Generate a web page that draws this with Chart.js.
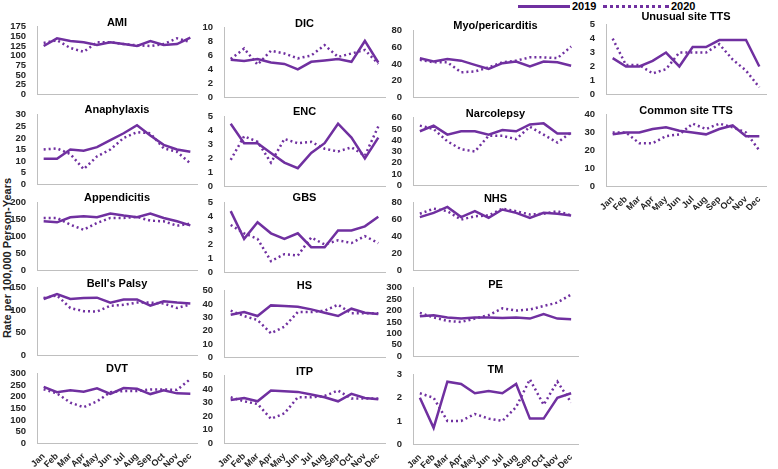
<!DOCTYPE html>
<html>
<head>
<meta charset="utf-8">
<script src="https://cdn.jsdelivr.net/npm/chart.js@4.4.1/dist/chart.umd.min.js"></script>
<style>
  body { margin: 0; background: #fff; width: 778px; height: 469px; position: relative; overflow: hidden;
         font-family: "Liberation Sans", Arial, sans-serif; }
  canvas { position: absolute; }
  .ttl { position: absolute; font-weight: bold; font-size: 11px; color: #000; text-align: center;
         transform: translate(-50%, -50%); white-space: nowrap; }
  #ylab { position: absolute; left: 7px; top: 258px; font-weight: bold; font-size: 11px; color: #222;
          transform: translate(-50%, -50%) rotate(-90deg); white-space: nowrap; }
  .leg { position: absolute; top: 0; font-weight: bold; font-size: 11px; color: #000; }
  .sw { position: absolute; top: 5px; height: 0; }
</style>
</head>
<body>
<div id="ylab">Rate per 100,000 Person-Years</div>
<div class="sw" style="left:518px;width:52px;border-top:3px solid #7030A0"></div>
<div class="leg" style="left:572px">2019</div>
<div class="sw" style="left:603px;width:66px;border-top:3px dotted #7030A0"></div>
<div class="leg" style="left:671px">2020</div>
<script>
const months = ['Jan','Feb','Mar','Apr','May','Jun','Jul','Aug','Sep','Oct','Nov','Dec'];

const ami19 = [125,145,138,135,128,135,130,125,138,128,130,147];
const ami20 = [133,140,120,110,135,135,130,127,125,130,145,135];
const ana19 = [11,11,15,14.5,16,19,22,25.5,21,17,15,14];
const ana20 = [15,15.5,13,6.5,12,15,20,22.5,22,15.5,14,9];
const app19 = [145,142,157,160,157,168,162,157,168,155,145,133];
const app20 = [155,155,135,120,140,155,155,158,147,145,132,138];
const bel19 = [125,136,125,127,128,117,124,124,110,120,117,115];
const bel20 = [127,133,105,98,97,110,112,117,117,115,105,113];
const dvt19 = [243,220,228,222,237,213,238,235,212,228,215,213];
const dvt20 = [233,215,175,155,180,220,225,225,232,232,230,277];
const dic19 = [5.4,5.2,5.5,5.0,4.8,4.0,5.1,5.3,5.5,5.1,8.1,5.0];
const dic20 = [5.5,7.0,4.7,6.7,6.3,5.6,6.0,7.5,5.8,6.3,6.8,4.8];
const enc19 = [4.5,3.1,3.1,2.4,1.7,1.3,2.4,3.1,4.5,3.5,2.0,3.5];
const enc20 = [1.9,3.6,3.2,1.7,3.4,3.1,3.2,2.7,2.5,2.8,2.2,4.3];
const gbs19 = [4.4,2.4,3.6,2.8,2.4,2.8,1.8,1.8,3.0,3.0,3.3,4.0];
const gbs20 = [3.4,2.8,2.4,0.8,1.3,1.2,2.5,2.0,2.3,2.1,2.6,2.1];
const hs19 = [32,34,31,39,38.5,38,36,33.5,31,36.5,33.5,32.5];
const hs20 = [35,31,28,18,23,34,34,35,39.5,33,33,33];
const itp19 = [32,33.5,31,39,38.5,38,36,34,31,36.5,33.5,32.5];
const itp20 = [34,31,29,18,22,34,34,35,39,33,33,33];
const myo19 = [47,43,46,44,39,34,41,43,37,43,42,38];
const myo20 = [45,42,42,30,31,36,42,44,48,48,47,61];
const nar19 = [48,53,45,48,48,45,49,48,54,55,46,46];
const nar20 = [53,50,39,32,30,44,44,41,52,45,38,47];
const nhs19 = [63,68,75,63,70,62,72,68,62,68,67,65];
const nhs20 = [67,73,70,60,64,65,73,70,66,67,70,65];
const pe19 = [175,180,170,165,170,170,167,170,165,185,165,162];
const pe20 = [190,170,155,150,165,180,210,200,205,220,235,270];
const tm19 = [2.0,0.7,2.7,2.6,2.2,2.3,2.2,2.6,1.1,1.1,2.0,2.2];
const tm20 = [2.2,2.0,1.0,1.0,1.3,1.1,1.0,1.6,2.8,1.7,2.7,1.8];
const uts19 = [2.6,2.0,2.0,2.4,3.0,2.0,3.4,3.4,3.9,3.9,3.9,2.0];
const uts20 = [4.0,2.1,2.1,1.5,1.8,3.0,3.0,3.0,3.6,2.5,1.7,0.5];
const cts19 = [29,30,30,32,33,31,30,29,32,34,28,28];
const cts20 = [30,30,24,24,28,29,35,32,35,33,30,20];

// title, 2019, 2020, max, step, [x0, x1, yTop, yZero, titleY], month labels
const panels = [
  ['AMI', ami19, ami20, 175, 25, [37,197,26,95,22], false],
  ['Anaphylaxis', ana19, ana20, 30, 5, [37,197,114,185,109], false],
  ['Appendicitis', app19, app20, 200, 50, [37,197,202,271,197], false],
  ["Bell's Palsy", bel19, bel20, 150, 50, [37,197,287,356,283], false],
  ['DVT', dvt19, dvt20, 300, 50, [37,197,373,443,368], true],
  ['DIC', dic19, dic20, 10, 2, [224,385,27,98,23], false],
  ['ENC', enc19, enc20, 5, 1, [224,385,116,187,111], false],
  ['GBS', gbs19, gbs20, 5, 1, [224,385,202,273,197], false],
  ['HS', hs19, hs20, 50, 10, [224,385,290,358,285], false],
  ['ITP', itp19, itp20, 50, 10, [224,385,375,443,371], true],
  ['Myo/pericarditis', myo19, myo20, 80, 20, [413,578,30,98,25], false],
  ['Narcolepsy', nar19, nar20, 60, 10, [413,578,117,186,113], false],
  ['NHS', nhs19, nhs20, 80, 20, [413,578,202,271,198], false],
  ['PE', pe19, pe20, 300, 50, [413,578,287,357,284], false],
  ['TM', tm19, tm20, 3, 1, [413,578,374,444,369], true],
  ['Unusual site TTS', uts19, uts20, 5, 1, [606,766,24,95,16], false],
  ['Common site TTS', cts19, cts20, 40, 10, [606,766,114,186,110], true]
];

const purple = '#7030A0';
const YW = 30, PADT = 7, PADB = 6, XH = 24;

panels.forEach(([title, a, b, max, step, g, showX]) => {
  const [x0, x1, yTop, yZero, ty] = g;
  const cv = document.createElement('canvas');
  const w = x1 - x0 + YW + 3;
  const h = yZero - yTop + PADT + (showX ? XH : PADB + 1);
  cv.width = w; cv.height = h;
  cv.style.left = (x0 - YW) + 'px';
  cv.style.top = (yTop - PADT) + 'px';
  document.body.appendChild(cv);

  const t = document.createElement('div');
  t.className = 'ttl';
  t.textContent = title;
  t.style.left = ((x0 + x1) / 2) + 'px';
  t.style.top = ty + 'px';
  document.body.appendChild(t);

  new Chart(cv.getContext('2d'), {
    type: 'line',
    data: {
      labels: months,
      datasets: [
        { label: '2019', data: a, borderColor: purple, borderWidth: 2.5, pointRadius: 0, tension: 0 },
        { label: '2020', data: b, borderColor: purple, borderWidth: 2.5, borderDash: [2, 3], pointRadius: 0, tension: 0 }
      ]
    },
    options: {
      responsive: false,
      animation: false,
      layout: { padding: { top: PADT, right: 3, left: 0, bottom: showX ? 0 : PADB } },
      plugins: { legend: { display: false }, title: { display: false }, tooltip: { enabled: false } },
      scales: {
        y: {
          min: 0, max: max,
          ticks: { stepSize: step, autoSkip: false, color: '#262626', padding: 3,
                   font: { family: 'Liberation Sans', size: 9.5, weight: 'bold', lineHeight: 1 } },
          grid: { display: false },
          border: { color: '#bfbfbf', width: 1 },
          afterFit: s => { s.width = YW; }
        },
        x: {
          offset: true,
          ticks: { display: showX, minRotation: 45, maxRotation: 45, autoSkip: false, padding: 0,
                   color: '#262626', font: { family: 'Liberation Sans', size: 9, weight: 'bold' } },
          grid: { display: false },
          border: { color: '#bfbfbf', width: 1 },
          afterFit: s => { s.height = showX ? XH : 1; }
        }
      }
    }
  });
});
</script>
</body>
</html>
